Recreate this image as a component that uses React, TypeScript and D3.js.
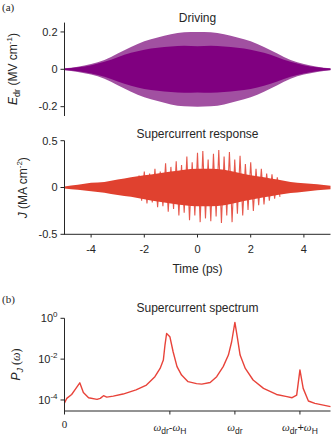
import React from 'react';
import * as d3 from 'd3';

// time grid (ps) for the envelopes
const timeGrid = [-5, -4.5, -4, -3.5, -3, -2.5, -2, -1.5, -1, -0.5, 0, 0.5, 1, 1.5, 2, 2.5, 3, 3.5, 4, 4.5, 5];

// driving field envelope (MV/cm): outer amplitude and dense dark core
const driveOuter = [0.005, 0.014, 0.028, 0.05, 0.085, 0.12, 0.15, 0.17, 0.188, 0.198, 0.2, 0.198, 0.188, 0.17, 0.15, 0.12, 0.085, 0.05, 0.028, 0.014, 0.005];
const driveCore = [0.004, 0.011, 0.022, 0.04, 0.065, 0.088, 0.105, 0.115, 0.122, 0.126, 0.124, 0.126, 0.122, 0.115, 0.105, 0.088, 0.065, 0.04, 0.022, 0.011, 0.004];

// supercurrent dense core (MA/cm^2)
const jCoreUpper = [0.012, 0.03, 0.05, 0.06, 0.085, 0.11, 0.13, 0.15, 0.17, 0.19, 0.2, 0.2, 0.19, 0.16, 0.13, 0.11, 0.085, 0.06, 0.045, 0.035, 0.02];
const jCoreLower = [-0.01, -0.025, -0.04, -0.055, -0.08, -0.1, -0.125, -0.15, -0.17, -0.19, -0.2, -0.2, -0.19, -0.16, -0.13, -0.105, -0.08, -0.06, -0.045, -0.03, -0.02];

// large oscillation spikes of the supercurrent
const spikeTimes = [-2.2, -2.0, -1.8, -1.6, -1.4, -1.2, -1.0, -0.8, -0.6, -0.4, -0.2, 0, 0.2, 0.4, 0.6, 0.8, 1.0, 1.2, 1.4, 1.6, 1.8, 2.0, 2.2, 2.4, 2.6, 2.8, 3.0];
const spikeTop = [0.13, 0.17, 0.15, 0.2, 0.17, 0.26, 0.22, 0.28, 0.24, 0.33, 0.27, 0.37, 0.39, 0.3, 0.36, 0.4, 0.33, 0.38, 0.3, 0.34, 0.25, 0.27, 0.2, 0.2, 0.15, 0.14, 0.11];
const spikeBottom = [-0.14, -0.17, -0.16, -0.21, -0.2, -0.26, -0.23, -0.3, -0.27, -0.35, -0.3, -0.37, -0.33, -0.36, -0.31, -0.38, -0.3, -0.37, -0.28, -0.3, -0.24, -0.25, -0.19, -0.18, -0.14, -0.12, -0.1];

// spectrum: frequency in units of omega_H, power
const specW = [0, 0.035, 0.11, 0.16, 0.235, 0.29, 0.37, 0.5, 0.55, 0.6, 0.65, 0.75, 0.9, 1.1, 1.26, 1.39, 1.47, 1.52, 1.545, 1.57, 1.62, 1.67, 1.73, 1.8, 1.9, 2.03, 2.11, 2.24, 2.34, 2.44, 2.52, 2.57, 2.62, 2.66, 2.7, 2.78, 2.9, 3.06, 3.26, 3.42, 3.5, 3.57, 3.62, 3.67, 3.75, 3.85, 3.98, 4.09];
const specP = [7.1e-5, 1.2e-4, 1.86e-4, 3.1e-4, 6.9e-4, 2.3e-4, 1.29e-4, 1.07e-4, 1.2e-4, 1.62e-4, 1.38e-4, 1.55e-4, 1.95e-4, 3.1e-4, 5.4e-4, 1.38e-3, 3.5e-3, 9.1e-3, 4.9e-2, 0.18, 0.126, 2.3e-2, 4.3e-3, 1.66e-3, 7.9e-4, 6.3e-4, 6.0e-4, 7.2e-4, 1.38e-3, 4.3e-3, 1.58e-2, 7.1e-2, 0.63, 0.105, 1.58e-2, 3.5e-3, 9.5e-4, 3.7e-4, 1.86e-4, 1.45e-4, 1.29e-4, 1.74e-4, 2.95e-3, 3.7e-4, 8.9e-5, 6.8e-5, 5.6e-5, 4.7e-5];

const timeTicks = [-4, -2, 0, 2, 4];
const driveTicks = [0.2, 0, -0.2];
const driveTickLabels = ['0.2', '0', '-0.2'];
const jTicks = [0.5, 0, -0.5];
const jTickLabels = ['0.5', '0', '-0.5'];
const specYTicks = [1, 1e-2, 1e-4];
const specYExp = ['0', '-2', '-4'];
const omegaDr = 2.62;
const omegaH = 1;

const INK = '#262626';
const SANS = '"Liberation Sans", Arial, sans-serif';
const SERIF = '"Liberation Serif", "DejaVu Serif", serif';

export default function App() {
  const xT = d3.scaleLinear().domain([-5, 5]).range([64.5, 330.5]);
  const yD = d3.scaleLinear().domain([-0.25, 0.25]).range([116, 22.6]);
  const yJ = d3.scaleLinear().domain([-0.5, 0.5]).range([234.3, 140.7]);
  const xW = d3.scaleLinear().domain([0, 4.09]).range([64.5, 330.5]);
  const yP = d3.scaleLog().domain([Math.pow(10, -4.54), 1]).range([411, 318.3]);

  const idx = timeGrid.map((t, i) => i);

  const outerArea = d3.area<number>()
    .x(i => xT(timeGrid[i]))
    .y0(i => yD(-driveOuter[i]))
    .y1(i => yD(driveOuter[i]))
    .curve(d3.curveMonotoneX);
  const coreArea = d3.area<number>()
    .x(i => xT(timeGrid[i]))
    .y0(i => yD(-driveCore[i]))
    .y1(i => yD(driveCore[i]))
    .curve(d3.curveMonotoneX);
  const jArea = d3.area<number>()
    .x(i => xT(timeGrid[i]))
    .y0(i => yJ(jCoreLower[i]))
    .y1(i => yJ(jCoreUpper[i]))
    .curve(d3.curveMonotoneX);

  const zig: [number, number][] = [];
  spikeTimes.forEach((t, i) => {
    zig.push([t, spikeTop[i]]);
    zig.push([t + 0.1, spikeBottom[i]]);
  });
  const zigLine = d3.line<[number, number]>().x(d => xT(d[0])).y(d => yJ(d[1]));

  const specLine = d3.line<number>().x(i => xW(specW[i])).y(i => yP(specP[i]));

  const wTicks = [0, omegaDr - omegaH, omegaDr, omegaDr + omegaH];

  const yTickMarks = (scale: any, ticks: number[]) =>
    ticks.map((v, i) => (
      <line key={i} x1={60.5} x2={64.5} y1={scale(v)} y2={scale(v)} stroke={INK} strokeWidth={1} />
    ));

  return (
    <svg width={334} height={439} style={{ position: 'absolute', left: 0, top: 0, background: '#fff' }}>
      {/* panel labels */}
      <text x={2} y={10.5} fontFamily={SERIF} fontSize={11} fill={INK}>(a)</text>
      <text x={2} y={303} fontFamily={SERIF} fontSize={11} fill={INK}>(b)</text>

      {/* ---- Driving ---- */}
      <text x={197.5} y={22} textAnchor="middle" fontFamily={SANS} fontSize={12} fill={INK}>Driving</text>
      <path d={outerArea(idx) || ''} fill="#a150a1" />
      <path d={coreArea(idx) || ''} fill="#800080" />
      <line x1={64.5} x2={64.5} y1={22.6} y2={116} stroke={INK} strokeWidth={1} />
      {yTickMarks(yD, driveTicks)}
      {driveTicks.map((v, i) => (
        <text key={i} x={57.5} y={yD(v) + 3.8} textAnchor="end" fontFamily={SANS} fontSize={11} fill={INK}>{driveTickLabels[i]}</text>
      ))}
      <text transform={`translate(17,69) rotate(-90)`} textAnchor="middle" fontFamily={SANS} fontSize={12} fill={INK}>
        <tspan fontStyle="italic">E</tspan>
        <tspan fontSize={9} dy={3}>dr</tspan>
        <tspan dy={-3}> (MV cm</tspan>
        <tspan fontSize={8} dy={-5}>-1</tspan>
        <tspan dy={5}>)</tspan>
      </text>

      {/* ---- Supercurrent response ---- */}
      <text x={197.5} y={138} textAnchor="middle" fontFamily={SANS} fontSize={12} fill={INK}>Supercurrent response</text>
      <path d={zigLine(zig) || ''} fill="none" stroke="#e6584c" strokeWidth={1.1} />
      <path d={jArea(idx) || ''} fill="#e0412f" />
      <line x1={64.5} x2={64.5} y1={140.7} y2={234.3} stroke={INK} strokeWidth={1} />
      <line x1={64} x2={330.5} y1={234.3} y2={234.3} stroke={INK} strokeWidth={1} />
      {yTickMarks(yJ, jTicks)}
      {jTicks.map((v, i) => (
        <text key={i} x={57.5} y={yJ(v) + 3.8} textAnchor="end" fontFamily={SANS} fontSize={11} fill={INK}>{jTickLabels[i]}</text>
      ))}
      {timeTicks.map(v => (
        <g key={v}>
          <line x1={xT(v)} x2={xT(v)} y1={234.3} y2={237.5} stroke={INK} strokeWidth={1} />
          <text x={xT(v)} y={253} textAnchor="middle" fontFamily={SANS} fontSize={11} fill={INK}>{v}</text>
        </g>
      ))}
      <text x={197.5} y={273} textAnchor="middle" fontFamily={SANS} fontSize={12} fill={INK}>Time (ps)</text>
      <text transform={`translate(27,187.7) rotate(-90)`} textAnchor="middle" fontFamily={SANS} fontSize={12} fill={INK}>
        <tspan fontStyle="italic">J</tspan>
        <tspan> (MA cm</tspan>
        <tspan fontSize={8} dy={-5}>-2</tspan>
        <tspan dy={5}>)</tspan>
      </text>

      {/* ---- Supercurrent spectrum ---- */}
      <text x={197.5} y={312} textAnchor="middle" fontFamily={SANS} fontSize={12} fill={INK}>Supercurrent spectrum</text>
      <path d={specLine(specW.map((w, i) => i)) || ''} fill="none" stroke="#e8433a" strokeWidth={1.4} strokeLinejoin="round" />
      <line x1={64.5} x2={64.5} y1={318.3} y2={411} stroke={INK} strokeWidth={1} />
      <line x1={64} x2={330.5} y1={411} y2={411} stroke={INK} strokeWidth={1} />
      {yTickMarks(yP, specYTicks)}
      {specYTicks.map((v, i) => (
        <text key={i} x={57.5} y={yP(v) + 4} textAnchor="end" fontFamily={SANS} fontSize={11} fill={INK}>
          10<tspan fontSize={8} dy={-5}>{specYExp[i]}</tspan>
        </text>
      ))}
      {wTicks.map((v, i) => (
        <line key={i} x1={xW(v)} x2={xW(v)} y1={411} y2={414.5} stroke={INK} strokeWidth={1} />
      ))}
      <text x={xW(0)} y={428} textAnchor="middle" fontFamily={SERIF} fontSize={11} fill={INK}>0</text>
      <text x={xW(omegaDr - omegaH)} y={431} textAnchor="middle" fontSize={11} fill={INK}>
        <tspan fontFamily={SERIF} fontStyle="italic">ω</tspan>
        <tspan fontFamily={SANS} fontSize={8.5} dy={3}>dr</tspan>
        <tspan fontFamily={SANS} dy={-3}>-</tspan>
        <tspan fontFamily={SERIF} fontStyle="italic">ω</tspan>
        <tspan fontFamily={SANS} fontSize={8.5} dy={3}>H</tspan>
      </text>
      <text x={xW(omegaDr)} y={431} textAnchor="middle" fontSize={11} fill={INK}>
        <tspan fontFamily={SERIF} fontStyle="italic">ω</tspan>
        <tspan fontFamily={SANS} fontSize={8.5} dy={3}>dr</tspan>
      </text>
      <text x={xW(omegaDr + omegaH)} y={431} textAnchor="middle" fontSize={11} fill={INK}>
        <tspan fontFamily={SERIF} fontStyle="italic">ω</tspan>
        <tspan fontFamily={SANS} fontSize={8.5} dy={3}>dr</tspan>
        <tspan fontFamily={SANS} dy={-3}>+</tspan>
        <tspan fontFamily={SERIF} fontStyle="italic">ω</tspan>
        <tspan fontFamily={SANS} fontSize={8.5} dy={3}>H</tspan>
      </text>
      <text transform={`translate(20,364.5) rotate(-90)`} textAnchor="middle" fontFamily={SANS} fontSize={12} fill={INK}>
        <tspan fontStyle="italic">P</tspan>
        <tspan fontStyle="italic" fontSize={9} dy={3}>J</tspan>
        <tspan dy={-3} fontFamily={SERIF}> (</tspan>
        <tspan fontFamily={SERIF} fontStyle="italic">ω</tspan>
        <tspan fontFamily={SERIF}>)</tspan>
      </text>
    </svg>
  );
}
